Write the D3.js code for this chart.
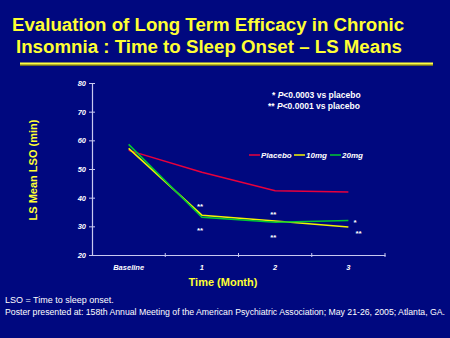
<!DOCTYPE html>
<html>
<head>
<meta charset="utf-8">
<script src="https://cdn.jsdelivr.net/npm/d3@7"></script>
<style>
  html, body { margin: 0; padding: 0; background: #00087f; }
  svg { display: block; font-family: Arial, "Liberation Sans", sans-serif; }
</style>
</head>
<body>
<svg id="chart" width="450" height="338"></svg>
<script>
const categories = ["Baseline", "1", "2", "3"];
const placebo = [56.5, 48.9, 42.4, 42.0];
const mg10 = [57.2, 33.9, 31.9, 29.8];
const mg20 = [58.6, 33.2, 31.4, 32.0];
const yTicks = [20, 30, 40, 50, 60, 70, 80];

const seriesNames = ["Placebo", "10mg", "20mg"];
const seriesColors = ["#e8003c", "#f4f400", "#00c832"];

// significance marks: category, y value, label
const sigCats = ["1", "1", "2", "2", "3", "3"];
const sigVals = [37.4, 29.0, 34.6, 26.6, 31.9, 28.0];
const sigText = ["**", "**", "**", "**", "*", "**"];

const svg = d3.select("#chart");
const width = +svg.attr("width");

svg.append("rect").attr("width", width).attr("height", 338).attr("fill", "#00087f");

// title
const title = svg.append("g").attr("fill", "#ffff33").attr("font-weight", "bold").attr("font-size", 18.7);
title.append("text").attr("x", 12).attr("y", 31).text("Evaluation of Long Term Efficacy in Chronic");
title.append("text").attr("x", 16).attr("y", 53).text("Insomnia : Time to Sleep Onset \u2013 LS Means");
svg.append("line").attr("x1", 20).attr("x2", 433).attr("y1", 65).attr("y2", 65)
  .attr("stroke", "#6e6a20").attr("stroke-width", 2);
svg.append("line").attr("x1", 20).attr("x2", 433).attr("y1", 63.5).attr("y2", 63.5)
  .attr("stroke", "#ffff40").attr("stroke-width", 1.8);

const x = d3.scaleBand().domain(categories).range([92, 385]);
const y = d3.scaleLinear().domain([20, 80]).range([255, 83]);
const axisColor = "#c8c8f0";

// y axis
const yAxis = svg.append("g").attr("transform", "translate(92,0)")
  .call(d3.axisLeft(y).tickValues(yTicks).tickSize(3).tickPadding(3));
yAxis.select(".domain").attr("stroke", axisColor).attr("stroke-width", 1.2);
yAxis.selectAll(".tick line").attr("stroke", axisColor).attr("x2", 3).attr("x1", -3);
yAxis.selectAll(".tick text").attr("fill", "#fff").attr("font-size", 7.5)
  .attr("font-style", "italic").attr("font-weight", "bold").attr("font-family", "Arial, sans-serif");

// x axis
const xAxis = svg.append("g").attr("transform", "translate(0,255)")
  .call(d3.axisBottom(x).tickSize(0).tickPadding(10));
xAxis.select(".domain").attr("stroke", axisColor).attr("stroke-width", 1.2);
xAxis.selectAll(".tick text").attr("fill", "#fff").attr("font-size", 7.5)
  .attr("font-style", "italic").attr("font-weight", "bold").attr("font-family", "Arial, sans-serif");
xAxis.selectAll(".sep").data(categories).enter().append("line")
  .attr("x1", d => x(d) + x.bandwidth()).attr("x2", d => x(d) + x.bandwidth())
  .attr("y1", -2).attr("y2", 2).attr("stroke", axisColor);

// axis titles
svg.append("text").attr("transform", "translate(37,170) rotate(-90)")
  .attr("text-anchor", "middle").attr("fill", "#ffff33").attr("font-weight", "bold")
  .attr("font-size", 11).text("LS Mean LSO (min)");
svg.append("text").attr("x", 223).attr("y", 286).attr("text-anchor", "middle")
  .attr("fill", "#ffff33").attr("font-weight", "bold").attr("font-size", 11).text("Time (Month)");

// lines
const line = d3.line().x((d, i) => x(categories[i]) + x.bandwidth() / 2).y(d => y(d));
[placebo, mg10, mg20].forEach((s, i) => {
  svg.append("path").datum(s).attr("d", line).attr("fill", "none")
    .attr("stroke", seriesColors[i]).attr("stroke-width", 1.5);
});

// significance marks
svg.selectAll(".sig").data(sigText).enter().append("text")
  .attr("x", (d, i) => x(sigCats[i]) + x.bandwidth() / 2 + (sigCats[i] === "3" ? (d === "*" ? 5 : 7) : -5))
  .attr("y", (d, i) => y(sigVals[i]) + 4)
  .attr("fill", "#fff").attr("font-size", 8).attr("font-weight", "bold").text(d => d);

// p-value notes
const notes = svg.append("g").attr("fill", "#fff").attr("font-size", 8.5).attr("font-weight", "bold");
const n1 = notes.append("text").attr("x", 272).attr("y", 98);
n1.append("tspan").text("* ");
n1.append("tspan").attr("font-style", "italic").text("P");
n1.append("tspan").text("<0.0003 vs placebo");
const n2 = notes.append("text").attr("x", 268).attr("y", 109);
n2.append("tspan").text("** ");
n2.append("tspan").attr("font-style", "italic").text("P");
n2.append("tspan").text("<0.0001 vs placebo");

// legend
const legX = [249, 294, 330];
const leg = svg.append("g");
seriesNames.forEach((name, i) => {
  leg.append("line").attr("x1", legX[i]).attr("x2", legX[i] + 11).attr("y1", 155).attr("y2", 155)
    .attr("stroke", seriesColors[i]).attr("stroke-width", 1.5);
  leg.append("text").attr("x", legX[i] + 12).attr("y", 158).attr("fill", "#fff")
    .attr("font-size", 8).attr("font-style", "italic").attr("font-weight", "bold").text(name);
});

// footer
const foot = svg.append("g").attr("fill", "#fff").attr("font-size", 9);
foot.append("text").attr("x", 5).attr("y", 303).text("LSO = Time to sleep onset.");
foot.append("text").attr("x", 5).attr("y", 315).attr("font-size", 8.4)
  .attr("textLength", 440).attr("lengthAdjust", "spacingAndGlyphs")
  .text("Poster presented at: 158th Annual Meeting of the American Psychiatric Association; May 21-26, 2005; Atlanta, GA.");
</script>
</body>
</html>
